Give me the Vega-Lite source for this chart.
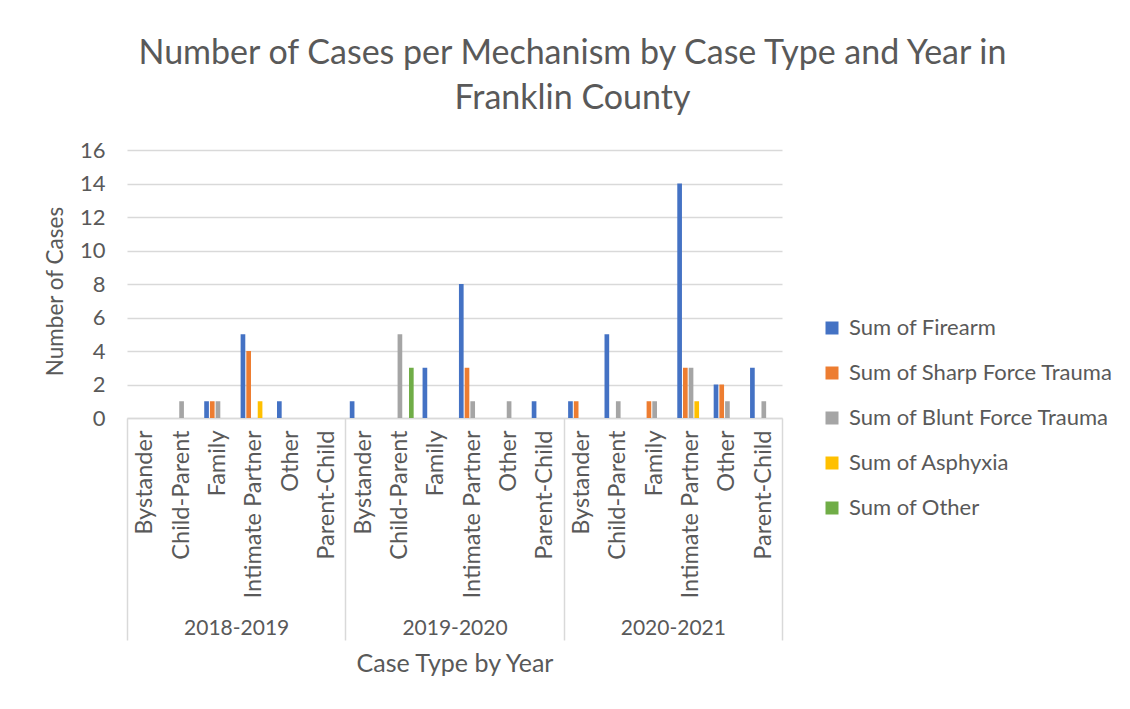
{
  "$schema": "https://vega.github.io/schema/vega-lite/v6.json",
  "width": 655,
  "height": 268,
  "autosize": {"type": "none"},
  "padding": {"left": 127, "top": 150, "right": 348, "bottom": 291},
  "background": "white",
  "config": {
    "font": "Lato",
    "view": {"stroke": null},
    "axis": {"labelColor": "#595959", "titleColor": "#595959", "titleFontWeight": "normal", "labelFont": "Lato", "titleFont": "Lato"},
    "legend": {"labelColor": "#595959", "labelFont": "Lato"}
  },
  "title": {
    "text": ["Number of Cases per Mechanism by Case Type and Year in", "Franklin County"],
    "fontSize": 34,
    "fontWeight": "normal",
    "color": "#595959",
    "font": "Lato",
    "anchor": "middle",
    "dx": 118,
    "lineHeight": 45,
    "offset": 23
  },
  "layer": [
    {
      "data": {
        "values": [
          {"year": "2018-2019", "type": "Child-Parent", "mech": "Sum of Blunt Force Trauma", "n": 1},
          {"year": "2018-2019", "type": "Family", "mech": "Sum of Firearm", "n": 1},
          {"year": "2018-2019", "type": "Family", "mech": "Sum of Sharp Force Trauma", "n": 1},
          {"year": "2018-2019", "type": "Family", "mech": "Sum of Blunt Force Trauma", "n": 1},
          {"year": "2018-2019", "type": "Intimate Partner", "mech": "Sum of Firearm", "n": 5},
          {"year": "2018-2019", "type": "Intimate Partner", "mech": "Sum of Sharp Force Trauma", "n": 4},
          {"year": "2018-2019", "type": "Intimate Partner", "mech": "Sum of Asphyxia", "n": 1},
          {"year": "2018-2019", "type": "Other", "mech": "Sum of Firearm", "n": 1},
          {"year": "2019-2020", "type": "Bystander", "mech": "Sum of Firearm", "n": 1},
          {"year": "2019-2020", "type": "Child-Parent", "mech": "Sum of Blunt Force Trauma", "n": 5},
          {"year": "2019-2020", "type": "Child-Parent", "mech": "Sum of Other", "n": 3},
          {"year": "2019-2020", "type": "Family", "mech": "Sum of Firearm", "n": 3},
          {"year": "2019-2020", "type": "Intimate Partner", "mech": "Sum of Firearm", "n": 8},
          {"year": "2019-2020", "type": "Intimate Partner", "mech": "Sum of Sharp Force Trauma", "n": 3},
          {"year": "2019-2020", "type": "Intimate Partner", "mech": "Sum of Blunt Force Trauma", "n": 1},
          {"year": "2019-2020", "type": "Other", "mech": "Sum of Blunt Force Trauma", "n": 1},
          {"year": "2019-2020", "type": "Parent-Child", "mech": "Sum of Firearm", "n": 1},
          {"year": "2020-2021", "type": "Bystander", "mech": "Sum of Firearm", "n": 1},
          {"year": "2020-2021", "type": "Bystander", "mech": "Sum of Sharp Force Trauma", "n": 1},
          {"year": "2020-2021", "type": "Child-Parent", "mech": "Sum of Firearm", "n": 5},
          {"year": "2020-2021", "type": "Child-Parent", "mech": "Sum of Blunt Force Trauma", "n": 1},
          {"year": "2020-2021", "type": "Family", "mech": "Sum of Sharp Force Trauma", "n": 1},
          {"year": "2020-2021", "type": "Family", "mech": "Sum of Blunt Force Trauma", "n": 1},
          {"year": "2020-2021", "type": "Intimate Partner", "mech": "Sum of Firearm", "n": 14},
          {"year": "2020-2021", "type": "Intimate Partner", "mech": "Sum of Sharp Force Trauma", "n": 3},
          {"year": "2020-2021", "type": "Intimate Partner", "mech": "Sum of Blunt Force Trauma", "n": 3},
          {"year": "2020-2021", "type": "Intimate Partner", "mech": "Sum of Asphyxia", "n": 1},
          {"year": "2020-2021", "type": "Other", "mech": "Sum of Firearm", "n": 2},
          {"year": "2020-2021", "type": "Other", "mech": "Sum of Sharp Force Trauma", "n": 2},
          {"year": "2020-2021", "type": "Other", "mech": "Sum of Blunt Force Trauma", "n": 1},
          {"year": "2020-2021", "type": "Parent-Child", "mech": "Sum of Firearm", "n": 3},
          {"year": "2020-2021", "type": "Parent-Child", "mech": "Sum of Blunt Force Trauma", "n": 1}
        ]
      },
      "transform": [{"calculate": "datum.year + '|' + datum.type", "as": "key"}],
      "mark": {"type": "bar"},
      "encoding": {
        "x": {
          "field": "key",
          "type": "nominal",
          "sort": null,
          "scale": {
            "domain": [
              "2018-2019|Bystander", "2018-2019|Child-Parent", "2018-2019|Family", "2018-2019|Intimate Partner", "2018-2019|Other", "2018-2019|Parent-Child",
              "2019-2020|Bystander", "2019-2020|Child-Parent", "2019-2020|Family", "2019-2020|Intimate Partner", "2019-2020|Other", "2019-2020|Parent-Child",
              "2020-2021|Bystander", "2020-2021|Child-Parent", "2020-2021|Family", "2020-2021|Intimate Partner", "2020-2021|Other", "2020-2021|Parent-Child"
            ],
            "paddingInner": 0,
            "paddingOuter": 0
          },
          "axis": {
            "title": null,
            "labelExpr": "split(datum.label, '|')[1]",
            "labelAngle": -90,
            "labelAlign": "right",
            "labelBaseline": "middle",
            "labelFontSize": 23.5,
            "labelPadding": 12,
            "labelLimit": 0,
            "ticks": false,
            "domainColor": "#d9d9d9",
            "domainWidth": 1.5
          }
        },
        "xOffset": {
          "field": "mech",
          "type": "nominal",
          "scale": {
            "domain": ["Sum of Firearm", "Sum of Sharp Force Trauma", "Sum of Blunt Force Trauma", "Sum of Asphyxia", "Sum of Other"],
            "paddingInner": 0.18,
            "paddingOuter": 0.78
          }
        },
        "y": {
          "field": "n",
          "type": "quantitative",
          "scale": {"domain": [0, 16], "nice": false},
          "axis": {
            "values": [0, 2, 4, 6, 8, 10, 12, 14, 16],
            "title": "Number of Cases",
            "titleFontSize": 22.5,
            "titlePadding": 12,
            "titleY": 141,
            "labelFontSize": 22,
            "labelPadding": 22,
            "ticks": false,
            "domain": false,
            "gridColor": "#d9d9d9",
            "gridWidth": 1.5
          }
        },
        "color": {
          "field": "mech",
          "type": "nominal",
          "scale": {
            "domain": ["Sum of Firearm", "Sum of Sharp Force Trauma", "Sum of Blunt Force Trauma", "Sum of Asphyxia", "Sum of Other"],
            "range": ["#4472C4", "#ED7D31", "#A5A5A5", "#FFC000", "#70AD47"]
          },
          "legend": {
            "title": null,
            "orient": "none",
            "legendX": 694,
            "legendY": 167,
            "symbolType": "square",
            "symbolSize": 169,
            "symbolStrokeWidth": 0,
            "labelFontSize": 22,
            "labelOffset": 6,
            "labelLimit": 0,
            "rowPadding": 23
          }
        }
      }
    },
    {
      "data": {"values": [{"year": "2018-2019"}, {"year": "2019-2020"}, {"year": "2020-2021"}]},
      "mark": {"type": "tick", "opacity": 0},
      "encoding": {
        "x": {
          "field": "year",
          "type": "nominal",
          "scale": {"paddingInner": 0, "paddingOuter": 0},
          "axis": {
            "orient": "bottom",
            "offset": 0,
            "labelAngle": 0,
            "labelFontSize": 21,
            "tickBand": "extent",
            "tickSize": 222,
            "tickColor": "#d9d9d9",
            "tickWidth": 1.5,
            "labelPadding": -12,
            "labelBaseline": "middle",
            "domain": false,
            "title": "Case Type by Year",
            "titleFontSize": 25,
            "titlePadding": 33
          }
        }
      }
    }
  ],
  "resolve": {"scale": {"x": "independent", "xOffset": "independent"}, "axis": {"x": "independent"}}
}
